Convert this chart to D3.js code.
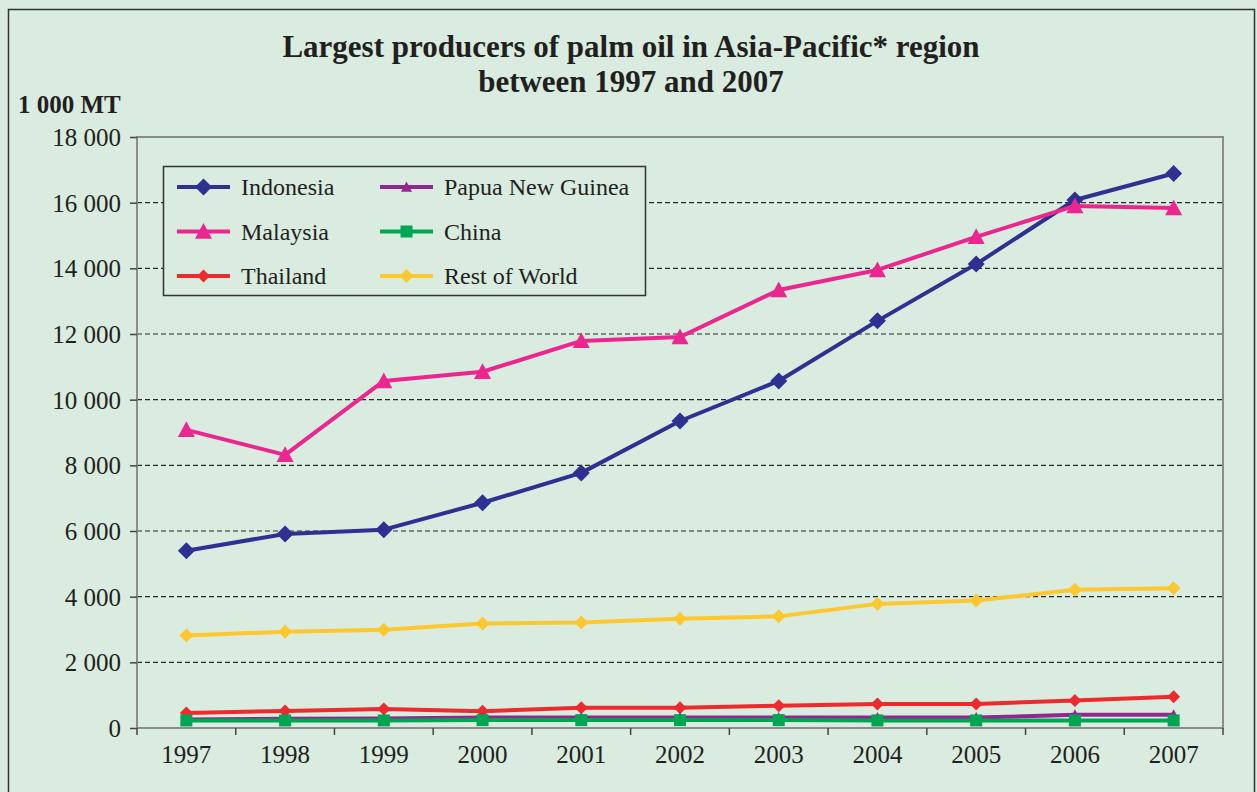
<!DOCTYPE html>
<html lang="en">
<head>
  <meta charset="utf-8">
  <title>Palm oil producers</title>
  <script src="https://d3js.org/d3.v7.min.js"></script>
  <style>
    body { margin: 0; background: #d9ecdf; }
    text { font-family: "Liberation Serif", "Times New Roman", serif; fill: #231f20; }
  </style>
</head>
<body>
  <div id="stage"></div>
  <script>
    // chart data (1 000 MT)
    var years = ["1997", "1998", "1999", "2000", "2001", "2002", "2003", "2004", "2005", "2006", "2007"];
    var indonesia = [5400, 5910, 6040, 6860, 7770, 9350, 10570, 12400, 14130, 16080, 16890];
    var malaysia = [9080, 8320, 10570, 10850, 11790, 11910, 13340, 13950, 14960, 15900, 15840];
    var thailand = [460, 520, 580, 510, 620, 620, 680, 730, 730, 840, 950];
    var png = [260, 280, 290, 320, 320, 320, 320, 320, 320, 400, 400];
    var china = [230, 230, 230, 240, 240, 240, 240, 230, 230, 230, 230];
    var restOfWorld = [2820, 2930, 2990, 3180, 3210, 3330, 3400, 3780, 3880, 4210, 4260];
    var yTicks = [0, 2000, 4000, 6000, 8000, 10000, 12000, 14000, 16000, 18000];

    var series = [
      { name: "Indonesia", values: indonesia, color: "#2e3192", marker: "diamond", size: 17 },
      { name: "Malaysia", values: malaysia, color: "#ec268f", marker: "triangle", size: 17 },
      { name: "Thailand", values: thailand, color: "#ed2a2e", marker: "diamond", size: 13 },
      { name: "Papua New Guinea", values: png, color: "#92278f", marker: "triangle", size: 11 },
      { name: "China", values: china, color: "#00a651", marker: "square", size: 12 },
      { name: "Rest of World", values: restOfWorld, color: "#fdc82f", marker: "diamond", size: 14 }
    ];

    var W = 1257, H = 792;
    var plot = { left: 137, right: 1223, top: 137, bottom: 728 };

    var svg = d3.select("#stage").append("svg").attr("width", W).attr("height", H);

    svg.append("rect").attr("width", W).attr("height", H).attr("fill", "#d9ecdf");
    // outer frame
    svg.append("rect").attr("x", 8.5).attr("y", 9.5).attr("width", 1246).attr("height", 800)
      .attr("fill", "none").attr("stroke", "#333").attr("stroke-width", 1.5);

    var x = d3.scaleBand().domain(years).range([plot.left, plot.right]);
    var y = d3.scaleLinear().domain([0, 18000]).range([plot.bottom, plot.top]);

    // gridlines
    svg.append("g").selectAll("line").data(yTicks.filter(function (d) { return d > 0 && d < 18000; }))
      .join("line")
      .attr("x1", plot.left).attr("x2", plot.right)
      .attr("y1", function (d) { return y(d); }).attr("y2", function (d) { return y(d); })
      .attr("stroke", "#2a2a2a").attr("stroke-width", 1.2).attr("stroke-dasharray", "5,3");

    // plot border
    svg.append("rect").attr("x", plot.left).attr("y", plot.top)
      .attr("width", plot.right - plot.left).attr("height", plot.bottom - plot.top)
      .attr("fill", "none").attr("stroke", "#8c8c8c").attr("stroke-width", 2);

    // y axis
    var yAxis = svg.append("g").attr("transform", "translate(" + plot.left + ",0)")
      .call(d3.axisLeft(y).tickValues(yTicks).tickSize(7).tickPadding(9)
        .tickFormat(function (d) { return d3.format(",")(d).replace(/,/g, " "); }));
    yAxis.select(".domain").remove();
    yAxis.selectAll(".tick line").attr("stroke", "#444").attr("stroke-width", 1.5);
    yAxis.selectAll(".tick text").attr("font-size", 25).attr("font-family", "Liberation Serif")
      .attr("fill", "#231f20").attr("dy", "0.34em");

    // x axis: ticks between categories
    var bounds = years.map(function (d) { return x(d); }).concat([plot.right]);
    svg.append("g").selectAll("line").data(bounds).join("line")
      .attr("x1", function (d) { return d; }).attr("x2", function (d) { return d; })
      .attr("y1", plot.bottom).attr("y2", plot.bottom + 7)
      .attr("stroke", "#444").attr("stroke-width", 1.5);
    svg.append("g").selectAll("text").data(years).join("text")
      .attr("x", function (d) { return x(d) + x.bandwidth() / 2; })
      .attr("y", 763).attr("text-anchor", "middle").attr("font-size", 25)
      .text(function (d) { return d; });

    function markerPath(type, s) {
      var h = s / 2;
      if (type === "diamond") return "M0," + (-h) + "L" + h + ",0L0," + h + "L" + (-h) + ",0Z";
      if (type === "square") return "M" + (-h) + "," + (-h) + "h" + s + "v" + s + "h" + (-s) + "Z";
      return "M0," + (-h) + "L" + h + "," + (h * 0.85) + "L" + (-h) + "," + (h * 0.85) + "Z";
    }

    var line = d3.line()
      .x(function (d, i) { return x(years[i]) + x.bandwidth() / 2; })
      .y(function (d) { return y(d); });

    series.forEach(function (s) {
      var g = svg.append("g");
      g.append("path").attr("d", line(s.values)).attr("fill", "none")
        .attr("stroke", s.color).attr("stroke-width", 4).attr("stroke-linejoin", "round");
      g.selectAll("path.m").data(s.values).join("path").attr("class", "m")
        .attr("transform", function (d, i) {
          return "translate(" + (x(years[i]) + x.bandwidth() / 2) + "," + y(d) + ")";
        })
        .attr("d", markerPath(s.marker, s.size)).attr("fill", s.color);
    });

    // legend
    var leg = svg.append("g");
    leg.append("rect").attr("x", 163.5).attr("y", 166.5).attr("width", 482).attr("height", 129)
      .attr("fill", "#d9ecdf").attr("stroke", "#333").attr("stroke-width", 1.5);
    series.forEach(function (s, i) {
      var col = Math.floor(i / 3), row = i % 3;
      var lx = 177 + col * 203, ly = 187 + row * 44.5;
      leg.append("line").attr("x1", lx).attr("x2", lx + 53).attr("y1", ly).attr("y2", ly)
        .attr("stroke", s.color).attr("stroke-width", 4);
      leg.append("path").attr("transform", "translate(" + (lx + 26.5) + "," + ly + ")")
        .attr("d", markerPath(s.marker, s.size)).attr("fill", s.color);
      leg.append("text").attr("x", lx + 64).attr("y", ly + 8).attr("font-size", 24).text(s.name);
    });

    // titles
    svg.append("text").attr("x", 631).attr("y", 57).attr("text-anchor", "middle")
      .attr("font-size", 31).attr("font-weight", "bold")
      .text("Largest producers of palm oil in Asia-Pacific* region");
    svg.append("text").attr("x", 631).attr("y", 92).attr("text-anchor", "middle")
      .attr("font-size", 31).attr("font-weight", "bold")
      .text("between 1997 and 2007");
    svg.append("text").attr("x", 18).attr("y", 113).attr("font-size", 25).attr("font-weight", "bold")
      .text("1 000 MT");
  </script>
</body>
</html>
